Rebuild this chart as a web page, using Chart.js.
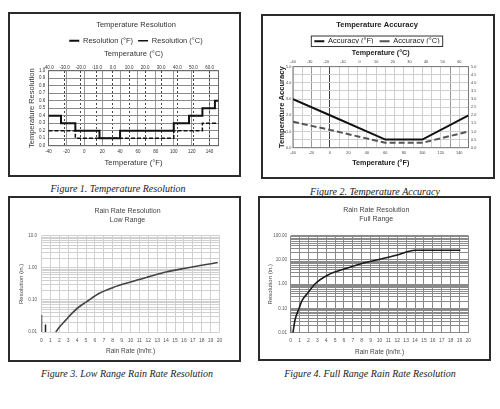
<!DOCTYPE html>
<html><head><meta charset="utf-8">
<script src="https://cdn.jsdelivr.net/npm/chart.js@4.4.1/dist/chart.umd.min.js"></script>
<style>
html,body{margin:0;padding:0;background:#fff;}
body{width:500px;height:409px;position:relative;overflow:hidden;}
.box{position:absolute;border:2px solid #2b2b2b;box-sizing:border-box;background:#fff;}
.box canvas{display:block;}
.cap{position:absolute;font-family:'Liberation Serif','Times New Roman',serif;font-style:italic;font-size:10px;line-height:12px;color:#222;text-align:center;white-space:nowrap;width:240px;}
</style></head><body>
<div class="box" style="left:8px;top:12px;width:233px;height:165px"><canvas id="c1" width="229" height="161"></canvas></div>
<div class="box" style="left:261px;top:14px;width:234px;height:165px"><canvas id="c2" width="230" height="161"></canvas></div>
<div class="box" style="left:8px;top:196px;width:233px;height:166px"><canvas id="c3" width="229" height="162"></canvas></div>
<div class="box" style="left:258px;top:196px;width:233px;height:165px"><canvas id="c4" width="229" height="161"></canvas></div>
<div class="cap" style="left:-2px;top:183px">Figure 1. Temperature Resolution</div>
<div class="cap" style="left:255px;top:186px">Figure 2. Temperature Accuracy</div>
<div class="cap" style="left:7px;top:368px">Figure 3. Low Range Rain Rate Resolution</div>
<div class="cap" style="left:250px;top:368px">Figure 4. Full Range Rain Rate Resolution</div>
<script>
// ---------- Figure 1: Temperature Resolution (step series, x in °F) ----------
const resStepTempF  = [-40, -26, -10, 17, 40, 100, 117, 132, 146, 150];
const resStepValueF = [0.4, 0.3, 0.2, 0.1, 0.2, 0.3, 0.4, 0.5, 0.6, 0.6];
const resStepTempC  = [-40, -10, 100, 132, 150];
const resStepValueC = [0.2, 0.1, 0.2, 0.3, 0.3];
const resSeriesNames = ['Resolution (°F)', 'Resolution (°C)'];

// ---------- Figure 2: Temperature Accuracy ----------
const accTempF  = [-40, 0, 60, 100, 150];
const accValueF = [3.0, 2.0, 0.5, 0.5, 2.0];
const accTempC  = [-40, 0, 60, 100, 150];
const accValueC = [1.6, 1.1, 0.3, 0.3, 1.0];
const accSeriesNames = ['Accuracy (°F)', 'Accuracy (°C)'];

// ---------- Figure 3: Low range rain rate resolution ----------
const lowRate = [1.6, 2, 2.7, 3.5, 4.2, 5, 6.5, 8, 10, 12, 14, 16, 18, 19.8];
const lowRes  = [0.010, 0.014, 0.023, 0.040, 0.060, 0.085, 0.16, 0.24, 0.36, 0.52, 0.74, 0.95, 1.2, 1.45];
const lowSpikeRate = [0, 0.45];
const lowSpikeTop  = [0.034, 0.017];
const lowRangeDecadeLabels = ['0.01', '0.10', '1.00', '10.0'];

// ---------- Figure 4: Full range rain rate resolution ----------
const fullRate = [0.25, 0.5, 0.94, 1.3, 1.9, 2.7, 4.2, 6.5, 8, 9.7, 12, 14, 19.1];
const fullRes  = [0.01, 0.035, 0.1, 0.22, 0.42, 1.0, 2.4, 4.8, 7.2, 10, 16, 25, 25];
const fullSpikeRate = [0];
const fullSpikeTop  = [0.018];
const fullRangeDecadeLabels = ['0.01', '0.10', '1.00', '10.00', '100.00'];

const pts = (xs, ys) => xs.map((x, i) => ({x, y: ys[i]}));
const spikes = (xs, tops, floor) => xs.flatMap((x, i) => [{x, y: floor}, {x, y: tops[i]}, {x, y: null}]);
const logGrid = (minExp, maxExp) => {
  const v = [];
  for (let e = minExp; e < maxExp; e++) for (let m = 1; m <= 9; m++) v.push(+(m * Math.pow(10, e)).toPrecision(6));
  v.push(Math.pow(10, maxExp));
  return v;
};
const decadeLabel = (v, labels, minExp) => {
  const e = Math.log10(v), r = Math.round(e);
  if (Math.abs(e - r) > 1e-6) return '';
  return labels[r - minExp] || '';
};

Chart.defaults.font.family = "'Liberation Sans', Arial, sans-serif";
Chart.defaults.color = '#333';

const framePlugin = {
  id: 'frame',
  beforeDatasetsDraw(chart, args, opts) {
    if (!opts || !opts.color) return;
    const {ctx, chartArea: a} = chart;
    ctx.save(); ctx.strokeStyle = opts.color; ctx.lineWidth = opts.width || 1;
    ctx.strokeRect(a.left, a.top, a.right - a.left, a.bottom - a.top);
    ctx.restore();
  }
};
Chart.register(framePlugin);

const legendBoxPlugin = {
  id: 'legendBox',
  afterDraw(chart) {
    const hb = chart.legend && chart.legend.legendHitBoxes;
    if (!hb || !hb.length) return;
    const l = Math.min(...hb.map(h => h.left)) - 3;
    const r = Math.max(...hb.map(h => h.left + h.width)) + 3;
    const t = Math.min(...hb.map(h => h.top)) - 1.5;
    const b = Math.max(...hb.map(h => h.top + h.height)) + 1.5;
    const ctx = chart.ctx;
    ctx.save(); ctx.strokeStyle = '#333'; ctx.lineWidth = 1;
    ctx.strokeRect(l, t, r - l, b - t); ctx.restore();
  }
};

const dummyRight = w => ({type: 'linear', position: 'right', display: true,
  grid: {display: false}, ticks: {display: false}, border: {display: false},
  afterFit: s => { s.width = w; }});

// ---------- Chart 1 ----------
new Chart(document.getElementById('c1'), {
  type: 'line',
  data: {datasets: [
    {label: resSeriesNames[0], data: pts(resStepTempF, resStepValueF), stepped: 'before',
     borderColor: '#111', backgroundColor: '#111', borderWidth: 2, pointRadius: 0, fill: false},
    {label: resSeriesNames[1], data: pts(resStepTempC, resStepValueC), stepped: 'before',
     borderColor: '#111', backgroundColor: '#111', borderWidth: 1.5, borderDash: [4, 2], pointRadius: 0, fill: false}
  ]},
  options: {
    responsive: false, devicePixelRatio: 1, animation: false,
    layout: {padding: {left: 23, right: 0, top: 0, bottom: 0}},
    plugins: {
      title: {display: true, text: 'Temperature Resolution', color: '#333',
        font: {size: 7.5, weight: 'normal'}, padding: {top: 6, bottom: 3}},
      legend: {display: true, maxHeight: 15.7,
        labels: {font: {size: 7.5}, color: '#333', boxWidth: 10, boxHeight: 0, padding: 5}},
      tooltip: {enabled: false},
      frame: {color: '#666'}
    },
    scales: {
      x: {type: 'linear', position: 'bottom', min: -40, max: 150,
        afterFit: s => { s.height = 29.3; },
        ticks: {stepSize: 20, includeBounds: false, autoSkip: false, maxRotation: 0,
          font: {size: 4.5}, padding: 3.3, color: '#333'},
        grid: {color: '#9a9a9a', drawTicks: false}, border: {display: false},
        title: {display: true, text: 'Temperature (°F)', color: '#333', font: {size: 7.7},
          padding: {top: 0, bottom: 7.7}}},
      x2: {type: 'linear', position: 'top', min: -40, max: (150 - 32) * 5 / 9,
        afterFit: s => { s.height = 23; },
        ticks: {stepSize: 10, includeBounds: false, autoSkip: false, maxRotation: 0,
          font: {size: 4.5}, padding: 0.3, color: '#333', callback: v => v.toFixed(1)},
        grid: {color: '#444', drawTicks: false}, border: {display: false, dash: [2, 2]},
        title: {display: true, text: 'Temperature (°C)', color: '#333', font: {size: 7.7},
          padding: {top: 2, bottom: 0}}},
      y: {type: 'linear', position: 'left', min: 0, max: 1,
        afterFit: s => { s.width = 15.5; },
        ticks: {stepSize: 0.1, autoSkip: false, font: {size: 4.5}, padding: 3.3, color: '#333',
          callback: v => v.toFixed(1)},
        grid: {color: '#8a8a8a', drawTicks: false}, border: {display: false},
        title: {display: true, text: 'Temperature Resolution', color: '#333', font: {size: 7.5},
          padding: {top: -5.8, bottom: 0}}},
      yR: dummyRight(20.5)
    }
  }
});

// ---------- Chart 2 ----------
new Chart(document.getElementById('c2'), {
  type: 'line',
  data: {datasets: [
    {label: accSeriesNames[0], data: pts(accTempF, accValueF),
     borderColor: '#111', backgroundColor: '#111', borderWidth: 2, pointRadius: 0, fill: false},
    {label: accSeriesNames[1], data: pts(accTempC, accValueC),
     borderColor: '#555', backgroundColor: '#555', borderWidth: 2, borderDash: [6, 3], pointRadius: 0, fill: false}
  ]},
  plugins: [legendBoxPlugin],
  options: {
    responsive: false, devicePixelRatio: 1, animation: false,
    layout: {padding: {left: 0, right: 2, top: 0, bottom: 0}},
    plugins: {
      title: {display: true, text: 'Temperature Accuracy', color: '#222',
        font: {size: 7.6, weight: 'bold'}, padding: {top: 4.4, bottom: 2}},
      legend: {display: true, maxHeight: 12,
        labels: {font: {size: 7.5}, color: '#222', boxWidth: 10, boxHeight: 0, padding: 6}},
      tooltip: {enabled: false},
      frame: {color: '#777'}
    },
    scales: {
      x: {type: 'linear', position: 'bottom', min: -40, max: 150,
        afterFit: s => { s.height = 29.3; },
        ticks: {stepSize: 10, includeBounds: false, autoSkip: false, maxRotation: 0,
          font: {size: 3.8}, padding: 2.7, color: '#444',
          callback: v => (v % 20 === 0 ? String(v) : '')},
        grid: {drawTicks: false,
          color: c => (c.tick && c.tick.value === 0) ? '#444' :
                      ((c.tick && (c.tick.value === -20 || c.tick.value === 130)) ? '#999' : '#cfcfcf')},
        border: {display: false},
        title: {display: true, text: 'Temperature (°F)', color: '#222', font: {size: 7.2, weight: 'bold'},
          padding: {top: 0, bottom: 9.4}}},
      x2: {type: 'linear', position: 'top', min: -40, max: (150 - 32) * 5 / 9,
        afterFit: s => { s.height = 23.1; },
        ticks: {stepSize: 10, includeBounds: false, autoSkip: false, maxRotation: 0,
          font: {size: 3.8}, padding: 2.7, color: '#444'},
        grid: {display: false, drawTicks: false}, border: {display: false},
        title: {display: true, text: 'Temperature (°C)', color: '#222', font: {size: 7.2, weight: 'bold'},
          padding: {top: 5.4, bottom: 0}}},
      y: {type: 'linear', position: 'left', min: 0, max: 5,
        afterFit: s => { s.width = 30; },
        ticks: {stepSize: 0.5, autoSkip: false, font: {size: 3.8}, padding: 1.7, color: '#444',
          callback: v => (Math.abs(v - Math.round(v)) < 1e-6 ? v.toFixed(1) : '')},
        grid: {color: '#cfcfcf', drawTicks: false}, border: {display: false},
        title: {display: true, text: 'Temperature Accuracy', color: '#222', font: {size: 7.6, weight: 'bold'},
          padding: {top: 14.2, bottom: 0}}},
      yR: {type: 'linear', position: 'right', min: 0, max: 5,
        afterFit: s => { s.width = 22.5; },
        ticks: {stepSize: 0.5, autoSkip: false, font: {size: 3.8}, padding: 2.5, color: '#444',
          callback: v => v.toFixed(1)},
        grid: {drawOnChartArea: false, drawTicks: false}, border: {display: false}}
    }
  }
});

// ---------- Chart 3 ----------
new Chart(document.getElementById('c3'), {
  type: 'line',
  data: {datasets: [
    {label: 'Resolution', data: pts(lowRate, lowRes), borderColor: '#444', borderWidth: 1.6,
     pointRadius: 0, fill: false, cubicInterpolationMode: 'monotone'},
    {label: 'spikes', data: spikes(lowSpikeRate, lowSpikeTop, 0.01), borderColor: '#222', borderWidth: 1.5,
     pointRadius: 0, fill: false, spanGaps: false}
  ]},
  options: {
    responsive: false, devicePixelRatio: 1, animation: false,
    layout: {padding: {left: 6, right: 0, top: 0, bottom: 0}},
    plugins: {
      title: {display: true, text: ['Rain Rate Resolution', 'Low Range'], color: '#444',
        font: {size: 7, weight: 'normal', lineHeight: 1.33}, padding: {top: 8, bottom: 11}},
      legend: {display: false}, tooltip: {enabled: false}
    },
    scales: {
      x: {type: 'linear', position: 'bottom', min: 0, max: 20,
        afterFit: s => { s.height = 28; },
        ticks: {stepSize: 1, autoSkip: false, maxRotation: 0, font: {size: 5}, padding: 6, color: '#555'},
        grid: {color: '#d0d0d0', drawTicks: false}, border: {display: false},
        title: {display: true, text: 'Rain Rate (in/hr.)', color: '#444', font: {size: 6.5},
          padding: {top: 0, bottom: 4.4}}},
      y: {type: 'logarithmic', position: 'left', min: 0.01, max: 10,
        afterFit: s => { s.width = 25.5; },
        afterBuildTicks: s => { s.ticks = logGrid(-2, 1).map(v => ({value: v})); },
        ticks: {autoSkip: false, font: {size: 4.5}, padding: 4.5, color: '#555',
          callback: v => decadeLabel(v, lowRangeDecadeLabels, -2)},
        grid: {color: '#d0d0d0', drawTicks: false}, border: {display: false},
        title: {display: true, text: 'Resolution (in.)', color: '#444', font: {size: 6},
          padding: {top: 2.1, bottom: 0}}},
      yR: dummyRight(19.5)
    }
  }
});

// ---------- Chart 4 ----------
new Chart(document.getElementById('c4'), {
  type: 'line',
  data: {datasets: [
    {label: 'Resolution', data: pts(fullRate, fullRes), borderColor: '#1a1a1a', borderWidth: 1.6,
     pointRadius: 0, fill: false, cubicInterpolationMode: 'monotone'},
    {label: 'spikes', data: spikes(fullSpikeRate, fullSpikeTop, 0.01), borderColor: '#222', borderWidth: 1.2,
     pointRadius: 0, fill: false, spanGaps: false}
  ]},
  options: {
    responsive: false, devicePixelRatio: 1, animation: false,
    layout: {padding: {left: 3.4, right: 0, top: 0, bottom: 0}},
    plugins: {
      title: {display: true, text: ['Rain Rate Resolution', 'Full Range'], color: '#444',
        font: {size: 7, weight: 'normal', lineHeight: 1.33}, padding: {top: 7.35, bottom: 11.75}},
      legend: {display: false}, tooltip: {enabled: false}
    },
    scales: {
      x: {type: 'linear', position: 'bottom', min: 0, max: 20,
        afterFit: s => { s.height = 26.3; },
        ticks: {stepSize: 1, autoSkip: false, maxRotation: 0, font: {size: 5}, padding: 5.3, color: '#555'},
        grid: {color: '#8a8a8a', drawTicks: false}, border: {display: false},
        title: {display: true, text: 'Rain Rate (in/hr.)', color: '#444', font: {size: 6.5},
          padding: {top: 0, bottom: 2.8}}},
      y: {type: 'logarithmic', position: 'left', min: 0.01, max: 100,
        afterFit: s => { s.width = 27.3; },
        afterBuildTicks: s => { s.ticks = logGrid(-2, 2).map(v => ({value: v})); },
        ticks: {autoSkip: false, font: {size: 4.5}, padding: 3.7, color: '#555',
          callback: v => decadeLabel(v, fullRangeDecadeLabels, -2)},
        grid: {color: '#8a8a8a', drawTicks: false}, border: {display: false},
        title: {display: true, text: 'Resolution (in.)', color: '#444', font: {size: 6},
          padding: {top: 3.7, bottom: 0}}},
      yR: dummyRight(20.7)
    }
  }
});
</script>
</body></html>
